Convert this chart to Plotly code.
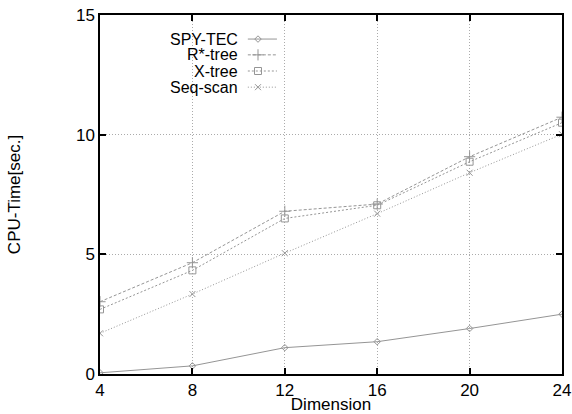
import plotly.graph_objects as go

dims = [4, 8, 12, 16, 20, 24]
spy_tec = [0.05, 0.34, 1.1, 1.35, 1.9, 2.5]
rstar_tree = [3.02, 4.65, 6.8, 7.1, 9.08, 10.73]
x_tree = [2.7, 4.33, 6.5, 7.05, 8.87, 10.5]
seq_scan = [1.7, 3.34, 5.05, 6.7, 8.41, 10.02]

names = ["SPY-TEC", "R*-tree", "X-tree", "Seq-scan"]
series = [spy_tec, rstar_tree, x_tree, seq_scan]
dashes = ["solid", "3px,2px", "2px,2px", "1px,2px"]
symbols = ["diamond-open", "cross-thin-open", "square-open", "x-thin-open"]
msizes = [5, 8, 7, 6]
color = "#959595"
FONT = "Liberation Sans, Arial, Helvetica"

fig = go.Figure()
for n, s, d, sym, ms in zip(names, series, dashes, symbols, msizes):
    fig.add_trace(go.Scatter(
        x=dims, y=s, name=n, mode="lines+markers",
        line=dict(color=color, width=1, dash=d),
        marker=dict(symbol=sym, size=ms, color=color, line=dict(color=color, width=1)),
        showlegend=False))

# custom legend (text right-aligned, sample to its right) on a helper axis
leg_y = [0.933, 0.889, 0.844, 0.799]
for n, d, sym, ms, yy in zip(names, dashes, symbols, msizes, leg_y):
    fig.add_trace(go.Scatter(
        x=[0.320, 0.383], y=[yy, yy], xaxis="x2", yaxis="y2", mode="lines",
        line=dict(color=color, width=1, dash=d), showlegend=False, hoverinfo="skip"))
    fig.add_trace(go.Scatter(
        x=[0.342], y=[yy], xaxis="x2", yaxis="y2", mode="markers",
        marker=dict(symbol=sym, size=ms, color=color, line=dict(color=color, width=1)),
        showlegend=False, hoverinfo="skip"))
    fig.add_annotation(x=0.302, y=yy, xref="x2", yref="y2", text=n, showarrow=False,
                       xanchor="right", yanchor="middle",
                       font=dict(family=FONT, size=16, color="black"))

axis_common = dict(showline=True, linecolor="black", linewidth=1.5, mirror="ticks",
                   ticks="inside", ticklen=6, tickcolor="black", tickwidth=1.5,
                   showgrid=True, gridcolor="#ababab", griddash="1px,2px", gridwidth=1,
                   zeroline=False, automargin=False,
                   tickfont=dict(family=FONT, size=17, color="black"))

fig.update_layout(
    width=572, height=414,
    margin=dict(l=100, r=10, t=15, b=40),
    paper_bgcolor="white", plot_bgcolor="white",
    font=dict(family=FONT, size=17, color="black"),
    xaxis=dict(range=[4, 24], tickvals=dims, ticktext=[str(v) for v in dims],
               title=dict(text="Dimension", standoff=0, font=dict(size=17)), **axis_common),
    yaxis=dict(range=[0, 15], tickvals=[0, 5, 10, 15],
               title=dict(text="CPU-Time[sec.]", standoff=51, font=dict(size=17)), **axis_common),
    xaxis2=dict(domain=[0, 1], range=[0, 1], overlaying="x", visible=False, fixedrange=True),
    yaxis2=dict(domain=[0, 1], range=[0, 1], overlaying="y", visible=False, fixedrange=True,
                anchor="x2"),
)

# remove the browser's default 8px body margin so the figure fills the window
fig.write_html("out.html", config={"displayModeBar": False},
               post_script="document.body.style.margin='0';")
